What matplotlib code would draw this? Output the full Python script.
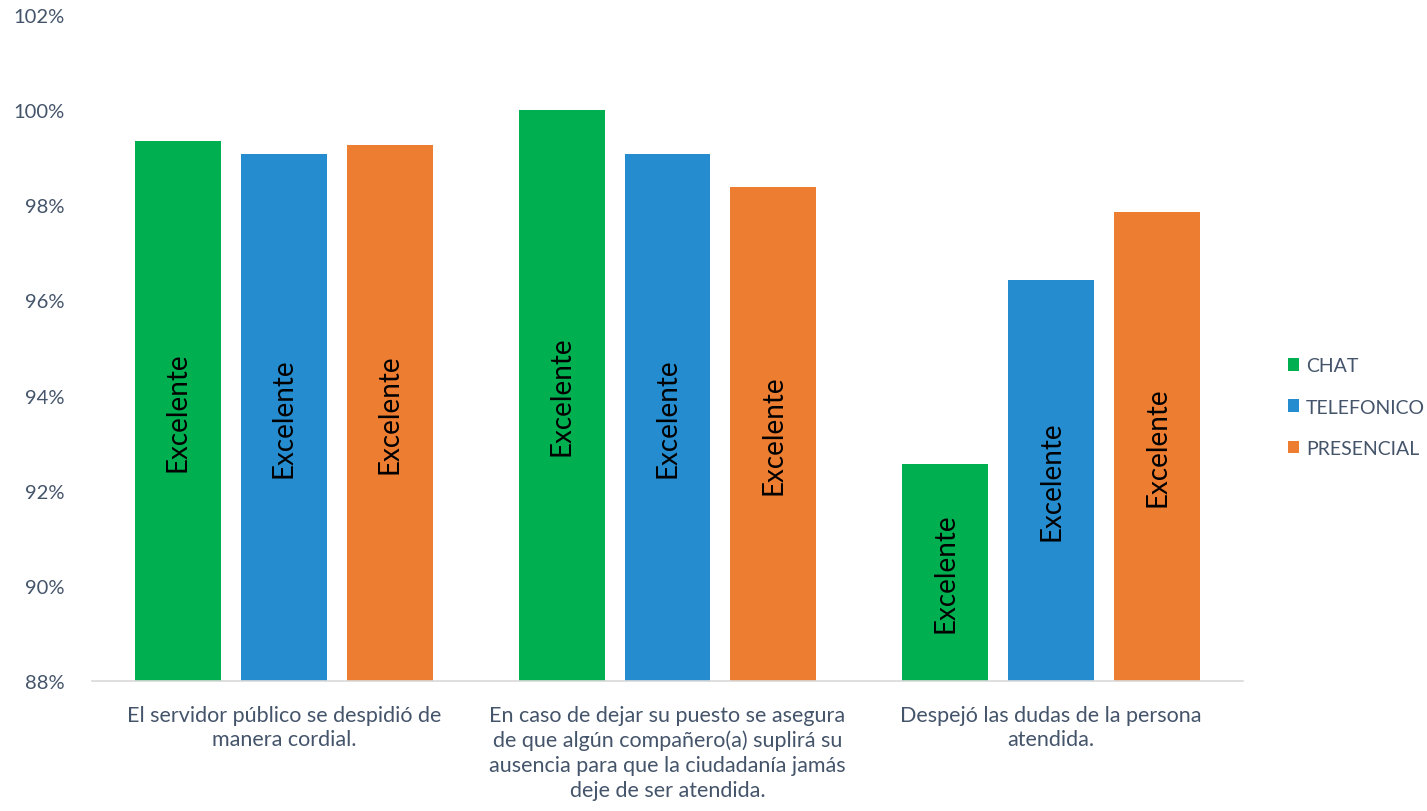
import matplotlib
matplotlib.use("Agg")
import matplotlib.pyplot as plt
import numpy as np
from matplotlib.ticker import FuncFormatter, MultipleLocator

plt.rcParams['font.family'] = ['Lato', 'DejaVu Sans']

categories = [
    "El servidor público se despidió de\nmanera cordial.",
    "En caso de dejar su puesto se asegura\nde que algún compañero(a) suplirá su\nausencia para que la ciudadanía jamás\ndeje de ser atendida.",
    "Despejó las dudas de la persona\natendida.",
]
series_names = ["CHAT", "TELEFONICO", "PRESENCIAL"]
chat = [99.35, 100.0, 92.56]
telefonico = [99.08, 99.08, 96.43]
presencial = [99.27, 98.38, 97.86]
bar_labels = ["Excelente", "Excelente", "Excelente"]
colors = ["#00B050", "#258DCF", "#ED7D31"]

text_color = "#44546A"
ymin, ymax = 88, 102

fig = plt.figure(figsize=(14.27, 8.12), dpi=100)
ax = fig.add_axes([92/1427, 1-682/812, (1243-92)/1427, (682-16)/812])

x = np.arange(len(categories))
width = 0.224
step = 0.276
all_series = [chat, telefonico, presencial]
for i, (vals, name, col) in enumerate(zip(all_series, series_names, colors)):
    pos = x + (i - 1) * step
    heights = [v - ymin for v in vals]
    ax.bar(pos, heights, width, bottom=ymin, color=col, label=name, zorder=2)
    for p, v, lab in zip(pos, vals, bar_labels):
        ax.text(p, (ymin + v) / 2, lab, rotation=90, ha="center", va="center",
                fontsize=20, color="black", zorder=3)

ax.set_xlim(-0.5, 2.5)
ax.set_ylim(ymin, ymax)
ax.yaxis.set_major_locator(MultipleLocator(2))
ax.yaxis.set_major_formatter(FuncFormatter(lambda v, p: f"{v:.0f}%"))
ax.set_xticks(x)
ax.set_xticklabels(categories, fontsize=15.5, color=text_color, linespacing=1.3)
ax.tick_params(axis="y", labelsize=14.5, labelcolor=text_color, length=0, pad=20)
ax.tick_params(axis="x", length=0, pad=17)
for s in ["top", "right", "left"]:
    ax.spines[s].set_visible(False)
ax.spines["bottom"].set_color("#D9D9D9")
ax.spines["bottom"].set_linewidth(1.2)

handles, labels = ax.get_legend_handles_labels()
leg = fig.legend(handles, labels, loc="center left", bbox_to_anchor=(1280/1427, 1-408/812),
                 frameon=False, fontsize=14, handlelength=0.6, handleheight=0.6,
                 handletextpad=0.35, labelspacing=1.25, borderaxespad=0)
for t in leg.get_texts():
    t.set_color(text_color)

fig.savefig("out.png", dpi=100)
